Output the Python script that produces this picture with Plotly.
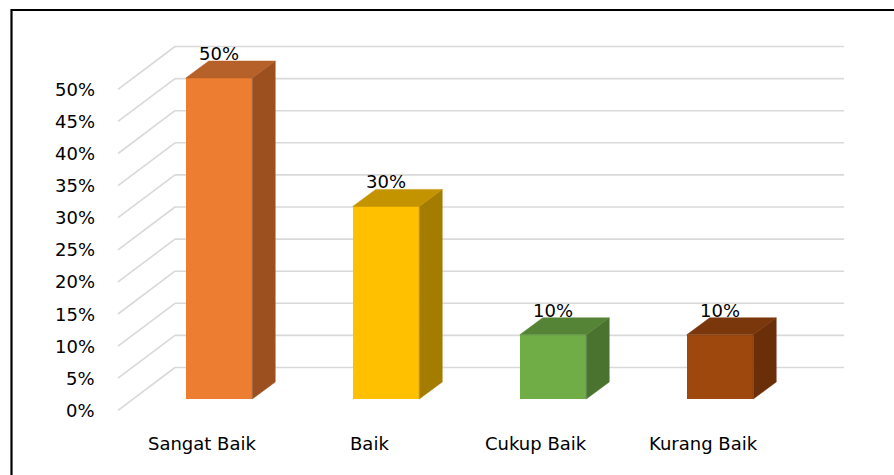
import plotly.graph_objects as go

# ---------------- data ----------------
categories = ["Sangat Baik", "Baik", "Cukup Baik", "Kurang Baik"]
values = [50, 30, 10, 10]
value_labels = ["50%", "30%", "10%", "10%"]
tick_values = [0, 5, 10, 15, 20, 25, 30, 35, 40, 45, 50]
tick_labels = ["0%", "5%", "10%", "15%", "20%", "25%", "30%", "35%", "40%", "45%", "50%"]

front_colors = ["#ED7D31", "#FFC000", "#70AD47", "#9E480E"]
top_colors = ["#B6602A", "#C49300", "#558436", "#7A370B"]
side_colors = ["#9C501F", "#A47C00", "#4A7330", "#6A2F08"]

# ---------------- layout calibration ----------------
W, H = 894, 475
PX_PER_CAT = 167.0      # pixels per category step
PX_PER_PCT = 6.42       # pixels per percent
ORIGIN_X_PX = 219.0     # pixel x of first category centre
ORIGIN_Y_PX = 399.0     # pixel y of bar baseline

x_range = [-ORIGIN_X_PX / PX_PER_CAT, (W - ORIGIN_X_PX) / PX_PER_CAT]
y_range = [(ORIGIN_Y_PX - H) / PX_PER_PCT, ORIGIN_Y_PX / PX_PER_PCT]

def px_x(n):
    return n / PX_PER_CAT

def px_y(n):
    return n / PX_PER_PCT

BAR_W = px_x(66.5)
DEPTH_DX = px_x(23)
DEPTH_DY = px_y(17)
FRONT_DX, FRONT_DY = px_x(118 - 219), px_y(-11.3)
BACK_DX, BACK_DY = px_x(175 - 219), px_y(31.5)
GRID_RIGHT = px_x(844 - 219)

idx = list(range(len(categories)))

fig = go.Figure()

# floor / wall gridlines
grid_color = "#D9D9D9"
for v in tick_values:
    fig.add_shape(type="line", xref="x", yref="y", layer="below",
                  x0=BACK_DX, x1=GRID_RIGHT, y0=v + BACK_DY, y1=v + BACK_DY,
                  line=dict(color=grid_color, width=1.6))
    fig.add_shape(type="line", xref="x", yref="y", layer="below",
                  x0=FRONT_DX, x1=BACK_DX, y0=v + FRONT_DY, y1=v + BACK_DY,
                  line=dict(color=grid_color, width=1.6))

# bar side and top faces
for i, v in zip(idx, values):
    l, r = i - BAR_W / 2, i + BAR_W / 2
    fig.add_trace(go.Scatter(
        x=[r, r + DEPTH_DX, r + DEPTH_DX, r, r],
        y=[0, DEPTH_DY, v + DEPTH_DY, v, 0],
        fill="toself", fillcolor=side_colors[i], mode="lines",
        line=dict(color=side_colors[i], width=0.5), hoverinfo="skip", showlegend=False))
    fig.add_trace(go.Scatter(
        x=[l, r, r + DEPTH_DX, l + DEPTH_DX, l],
        y=[v, v, v + DEPTH_DY, v + DEPTH_DY, v],
        fill="toself", fillcolor=top_colors[i], mode="lines",
        line=dict(color=top_colors[i], width=0.5), hoverinfo="skip", showlegend=False))

# bar front faces
fig.add_trace(go.Bar(x=idx, y=values, width=BAR_W, marker_color=front_colors,
                     marker_line_width=0, showlegend=False))

font = dict(family="DejaVu Sans", size=18, color="#000000")
annotations = []
for i, v in zip(idx, values):
    annotations.append(dict(x=i, y=v + DEPTH_DY + px_y(7.5), text=value_labels[i],
                            showarrow=False, xanchor="center", yanchor="middle", font=font))
for t, lab in zip(tick_values, tick_labels):
    annotations.append(dict(x=px_x(97 - 219), y=t + FRONT_DY, text=lab,
                            showarrow=False, xanchor="right", yanchor="middle", font=font))
for i, c in zip(idx, categories):
    annotations.append(dict(x=i + px_x(-17), y=px_y(-44), text=c,
                            showarrow=False, xanchor="center", yanchor="middle", font=font))

fig.add_shape(type="rect", xref="paper", yref="paper",
              x0=11.5 / W, x1=1.05, y0=-0.05, y1=1 - 10 / H,
              line=dict(color="#000000", width=2.2))

fig.update_layout(
    width=W, height=H,
    margin=dict(l=0, r=0, t=0, b=0),
    paper_bgcolor="white", plot_bgcolor="white",
    xaxis=dict(range=x_range, visible=False, fixedrange=True),
    yaxis=dict(range=y_range, visible=False, fixedrange=True),
    annotations=annotations,
    bargap=0,
    hovermode=False,
)

fig.write_html(
    "out.html",
    config={"displayModeBar": False, "staticPlot": True},
    post_script="document.body.style.margin='0';document.body.style.overflow='hidden';",
)
